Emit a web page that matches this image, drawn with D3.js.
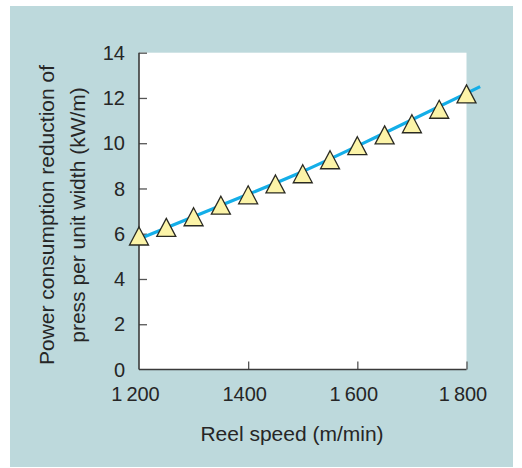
<!DOCTYPE html>
<html>
<head>
<meta charset="utf-8">
<script src="https://cdn.jsdelivr.net/npm/d3@7"></script>
<style>
  html, body { margin: 0; padding: 0; background: #ffffff; }
  svg { display: block; font-family: "Liberation Sans", Arial, Helvetica, sans-serif; }
</style>
</head>
<body>
<svg id="chart" width="522" height="468"></svg>
<script>
// ---- data ----
const reelSpeed = [1200, 1250, 1300, 1350, 1400, 1450, 1500, 1550, 1600, 1650, 1700, 1750, 1800];
const powerReduction = [5.9, 6.28, 6.75, 7.26, 7.72, 8.2, 8.65, 9.27, 9.89, 10.37, 10.86, 11.5, 12.18];
const fitLineX = [1200, 1350, 1500, 1650, 1825];
const fitLineY = [5.77, 7.25, 8.75, 10.45, 12.5];
const xTicks = [1200, 1400, 1600, 1800];
const xTickLabels = ["1\u2009200", "1400", "1\u2009600", "1\u2009800"];
const yTicks = [0, 2, 4, 6, 8, 10, 12, 14];
const xTitle = "Reel speed (m/min)";
const yTitleLines = ["Power consumption reduction of", "press per unit width (kW/m)"];

// ---- layout ----
const svg = d3.select("#chart");
const panel = { x: 10, y: 6, w: 503, h: 461 };
const plot = { left: 139, right: 466.5, top: 52.7, bottom: 369.5 };

svg.append("rect")
  .attr("x", panel.x).attr("y", panel.y)
  .attr("width", panel.w).attr("height", panel.h)
  .attr("fill", "#bdd9dc");

const x = d3.scaleLinear().domain([1200, 1800]).range([plot.left, plot.right]);
const y = d3.scaleLinear().domain([0, 14]).range([plot.bottom, plot.top]);

svg.append("rect")
  .attr("x", plot.left).attr("y", plot.top)
  .attr("width", plot.right - plot.left).attr("height", plot.bottom - plot.top)
  .attr("fill", "#ffffff");

const textColor = "#262626";
const axisColor = "#3a3a3a";

// y axis
const yAxis = svg.append("g").attr("transform", `translate(${plot.left},0)`)
  .call(d3.axisRight(y).tickValues(yTicks).tickSize(8).tickFormat(""));
yAxis.select(".domain").remove();
yAxis.selectAll(".tick line").attr("stroke", "#555").attr("stroke-width", 1.3)
  .filter(d => d === 0).remove();
svg.append("line")
  .attr("x1", plot.left).attr("x2", plot.left)
  .attr("y1", plot.top).attr("y2", plot.bottom)
  .attr("stroke", axisColor).attr("stroke-width", 1.6);

svg.append("g").selectAll("text").data(yTicks).join("text")
  .attr("x", 125).attr("y", d => y(d)).attr("dy", "0.36em")
  .attr("text-anchor", "end").attr("font-size", 20).attr("fill", textColor)
  .text(d => d);

// x axis
const xAxis = svg.append("g").attr("transform", `translate(0,${plot.bottom})`)
  .call(d3.axisTop(x).tickValues(xTicks).tickSize(8).tickFormat(""));
xAxis.select(".domain").remove();
xAxis.selectAll(".tick line").attr("stroke", "#555").attr("stroke-width", 1.3)
  .filter(d => d === 1200).remove();
svg.append("line")
  .attr("x1", plot.left).attr("x2", plot.right)
  .attr("y1", plot.bottom).attr("y2", plot.bottom)
  .attr("stroke", axisColor).attr("stroke-width", 1.6);

svg.append("g").selectAll("text").data(xTicks).join("text")
  .attr("x", d => x(d) - 3.5).attr("y", 400.5)
  .attr("text-anchor", "middle").attr("font-size", 20).attr("fill", textColor)
  .text((d, i) => xTickLabels[i]);

// titles
svg.append("text")
  .attr("x", 292).attr("y", 440.5)
  .attr("text-anchor", "middle").attr("font-size", 21).attr("fill", textColor)
  .text(xTitle);

const yt = svg.append("text")
  .attr("transform", "translate(54,215) rotate(-90)")
  .attr("text-anchor", "middle").attr("font-size", 21).attr("fill", textColor);
yTitleLines.forEach((t, i) => {
  yt.append("tspan").attr("x", 0).attr("y", i * 31).text(t);
});

// fit line
const line = d3.line().x(d => x(d[0])).y(d => y(d[1])).curve(d3.curveMonotoneX);
svg.append("path")
  .datum(fitLineX.map((v, i) => [v, fitLineY[i]]))
  .attr("d", line)
  .attr("fill", "none").attr("stroke", "#14aee8").attr("stroke-width", 3.2);

// triangle markers (bbox-centred)
const tri = {
  draw(ctx) {
    const w = 9.5, h = 9;
    ctx.moveTo(0, -h);
    ctx.lineTo(w, h);
    ctx.lineTo(-w, h);
    ctx.closePath();
  }
};
const sym = d3.symbol().type(tri);
svg.append("g").selectAll("path").data(reelSpeed).join("path")
  .attr("transform", (d, i) => `translate(${x(d)},${y(powerReduction[i])})`)
  .attr("d", sym)
  .attr("fill", "#fcf4a8").attr("stroke", "#2a2a22").attr("stroke-width", 1.3)
  .attr("stroke-linejoin", "miter");
</script>
</body>
</html>
